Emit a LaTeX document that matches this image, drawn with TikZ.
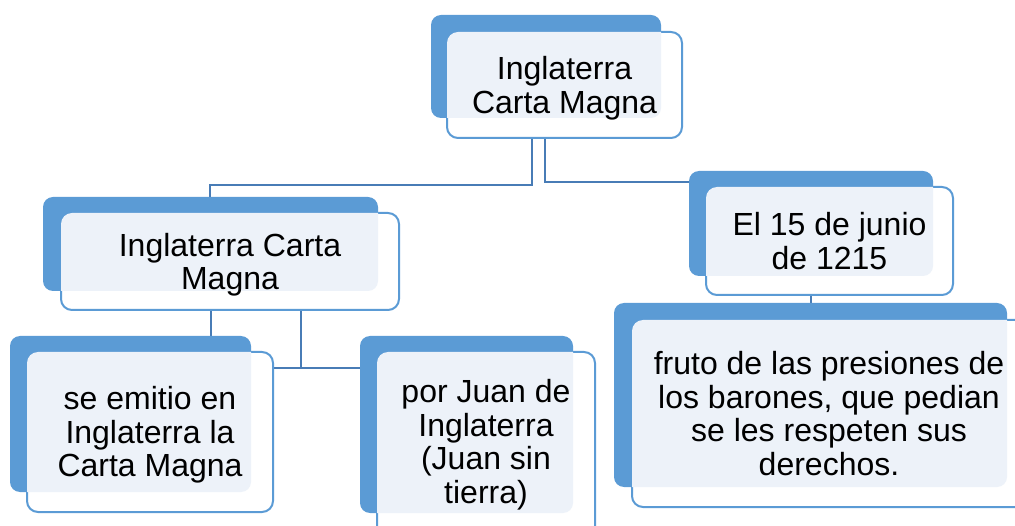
\documentclass[tikz,border=0pt]{standalone}
\usepackage{fontspec}
\setmainfont{Liberation Sans}
\usetikzlibrary{fit}
\definecolor{backc}{RGB}{91,155,213}
\definecolor{lightc}{RGB}{237,242,249}
\definecolor{connc}{RGB}{72,124,182}
\tikzset{
  backbox/.style={fill=backc, rounded corners=10pt},
  frontbox/.style={draw=backc, fill=white, line width=2pt, rounded corners=11pt, inner sep=0pt},
  lightfill/.style={fill=lightc, rounded corners=10pt},
  txt/.style={align=center, font=\fontsize{32pt}{33.5pt}\selectfont, text=black, inner sep=0pt},
  conn/.style={draw=connc, line width=2pt}
}
\newcommand\elem[7]{%
  \fill[backbox] (#2) rectangle (#3);
  \node[frontbox, fit={(#4)(#5)}] (#1) {};
  \begin{scope}
    \clip[rounded corners=11pt] (#4) rectangle (#5);
    \fill[lightfill] (#2) rectangle (#3);
  \end{scope}
  \node[txt, yshift=-#7pt] (#1-t) at (#1.center) {#6};
}
\begin{document}
\begin{tikzpicture}[x=1pt, y=-1pt]
\useasboundingbox (0,0) rectangle (1015,526);
% junction coordinates
\coordinate (jl) at (532,185);
\coordinate (jlx) at (210,185);
\coordinate (jr) at (545,182);
\coordinate (jb) at (301,368);
\coordinate (jbl) at (211,330);
\coordinate (jrr) at (811,300);
% connector anchor nodes (invisible placeholders sized as fronts)
\node[inner sep=0pt, fit={(447,32)(682,138)}] (topA) {};
\node[inner sep=0pt, fit={(61,213)(399,310)}] (midLA) {};
\node[inner sep=0pt, fit={(27,352)(273,512)}] (blA) {};
\node[inner sep=0pt, fit={(377,352)(595,537)}] (bmA) {};
\node[inner sep=0pt, fit={(706,187)(953,295)}] (rightA) {};
\node[inner sep=0pt, fit={(632,320)(1026,507)}] (brA) {};
% connectors
\draw[conn] (topA.south -| jl) -- (jl) -- (jlx) -- (midLA.north -| jlx);
\draw[conn] (topA.south -| jr) |- (rightA.west |- jr);
\draw[conn] (midLA.south -| jbl) -- (blA.north -| jbl);
\draw[conn] (midLA.south -| jb) -- (jb);
\draw[conn] (blA.east |- jb) -- (bmA.west |- jb);
\draw[conn] (rightA.south -| jrr) -- (brA.north -| jrr);
% elements
\elem{top}{431,15}{661,118}{447,32}{682,138}{Inglaterra\\Carta Magna}{3}
\elem{midL}{43,197}{378,291}{61,213}{399,310}{Inglaterra Carta\\Magna}{3}
\elem{bl}{10,336}{251,492}{27,352}{273,512}{se emitio en\\Inglaterra la\\Carta Magna}{3}
\elem{bm}{360,336}{573,513}{377,352}{595,537}{por Juan de\\Inglaterra\\(Juan sin\\tierra)}{0}
\elem{right}{689,171}{933,276}{706,187}{953,295}{El 15 de junio\\de 1215}{0}
\elem{br}{614,303}{1007,487}{632,320}{1026,507}{fruto de las presiones de\\los barones, que pedian\\se les respeten sus\\derechos.}{0}
\end{tikzpicture}
\end{document}
